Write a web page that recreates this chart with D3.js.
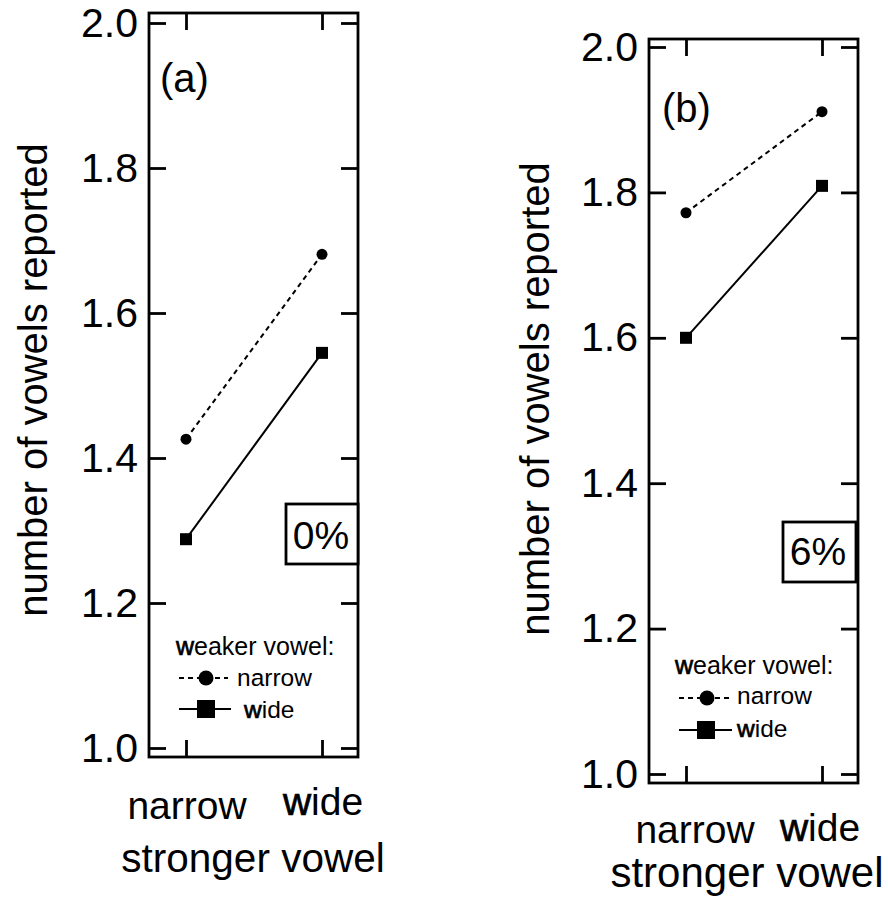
<!DOCTYPE html>
<html>
<head>
<meta charset="utf-8">
<script src="https://cdn.jsdelivr.net/npm/d3@7"></script>
<style>
  html, body { margin: 0; padding: 0; background: #fff; }
  svg { display: block; }
  text { font-family: "Liberation Sans", Arial, Helvetica, sans-serif; fill: #000; }
</style>
</head>
<body>
<svg id="chart" width="888" height="907"></svg>
<script>
// ---- data ----
const categories = ["narrow", "wide"];           // stronger vowel
const seriesNames = ["narrow", "wide"];          // weaker vowel
const panelLabels = ["(a)", "(b)"];
const panelNotes = ["0%", "6%"];
const yTicks = [1.0, 1.2, 1.4, 1.6, 1.8, 2.0];
const yDomain = [1.0, 2.0];
// panel (a)
const aNarrow = [1.426, 1.681];
const aWide = [1.288, 1.545];
// panel (b)
const bNarrow = [1.772, 1.911];
const bWide = [1.600, 1.809];

const yTitle = "number of vowels reported";
const xTitle = "stronger vowel";
const legendTitle = "weaker vowel:";

// ---- layout ----
const panels = [
  { values: [aNarrow, aWide], label: panelLabels[0], note: panelNotes[0],
    left: 149, right: 358, top: 13, bottom: 757, y0: 748, y1: 23,
    xA: 186, xB: 322, titleX: 47, titleY: 380,
    catDx: [1, 1], catY: [819, 815], xTitleX: 253, xTitleY: 872, xTitleSize: 40.5,
    labX: 160, labY: 92,
    noteBox: [286, 504, 72, 60], noteText: [321, 549],
    leg: { titleX: 176, titleY: 655, rows: [
      { y: 678, x1: 179, x2: 228, mx: 206, tx: 237, ty: 686 },
      { y: 709, x1: 179, x2: 231, mx: 206, tx: 244, ty: 718 } ] } },
  { values: [bNarrow, bWide], label: panelLabels[1], note: panelNotes[1],
    left: 649, right: 858, top: 39, bottom: 783, y0: 774, y1: 47,
    xA: 686, xB: 822, titleX: 549, titleY: 399,
    catDx: [9, -2], catY: [843, 841], xTitleX: 747, xTitleY: 887, xTitleSize: 42,
    labX: 662, labY: 122,
    noteBox: [783, 522, 73, 60], noteText: [818, 565],
    leg: { titleX: 675, titleY: 674, rows: [
      { y: 698, x1: 679, x2: 730, mx: 707, tx: 737, ty: 704 },
      { y: 730, x1: 679, x2: 732, mx: 706, tx: 737, ty: 737 } ] } }
];

const svg = d3.select("#chart");
const SW = 2.8, TICK = 17;
const dashes = ["5,4", null];

function wText(sel, str) {
  if (str[0] === "w") {
    sel.append("tspan").attr("stroke", "#000").attr("stroke-width", 0.7).text("w");
    sel.append("tspan").text(str.slice(1));
  } else sel.text(str);
}

panels.forEach(p => {
  const g = svg.append("g");
  const y = d3.scaleLinear().domain(yDomain).range([p.y0, p.y1]);
  const x = d3.scalePoint().domain(categories).range([p.xA, p.xB]).padding(0);

  // frame
  g.append("rect").attr("x", p.left).attr("y", p.top)
    .attr("width", p.right - p.left).attr("height", p.bottom - p.top)
    .attr("fill", "none").attr("stroke", "#000").attr("stroke-width", SW);

  // left axis (with labels)
  const la = g.append("g").attr("transform", `translate(${p.left},0)`)
    .call(d3.axisLeft(y).tickValues(yTicks).tickFormat(d3.format(".1f"))
      .tickSizeInner(-TICK).tickSizeOuter(0).tickPadding(11));
  la.select(".domain").remove();
  la.selectAll("line").attr("stroke-width", SW);
  la.selectAll("text").attr("font-size", 41).attr("font-family", "Liberation Sans, Arial, sans-serif");

  // right axis (ticks only)
  const ra = g.append("g").attr("transform", `translate(${p.right},0)`)
    .call(d3.axisRight(y).tickValues(yTicks).tickFormat("")
      .tickSizeInner(-TICK).tickSizeOuter(0));
  ra.select(".domain").remove();
  ra.selectAll("line").attr("stroke-width", SW);

  // top & bottom ticks
  const ta = g.append("g").attr("transform", `translate(0,${p.top})`)
    .call(d3.axisTop(x).tickFormat("").tickSizeInner(-TICK).tickSizeOuter(0));
  ta.select(".domain").remove();
  ta.selectAll("line").attr("stroke-width", SW);
  const ba = g.append("g").attr("transform", `translate(0,${p.bottom})`)
    .call(d3.axisBottom(x).tickFormat("").tickSizeInner(-TICK).tickSizeOuter(0));
  ba.select(".domain").remove();
  ba.selectAll("line").attr("stroke-width", SW);

  // category labels
  categories.forEach((c, i) => {
    const t = g.append("text").attr("x", x(c) + p.catDx[i]).attr("y", p.catY[i])
      .attr("text-anchor", "middle").attr("font-size", 39);
    wText(t, c);
  });
  g.append("text").attr("x", p.xTitleX).attr("y", p.xTitleY)
    .attr("text-anchor", "middle").attr("font-size", p.xTitleSize).text(xTitle);

  // y title
  g.append("text").attr("transform", `translate(${p.titleX},${p.titleY}) rotate(-90)`)
    .attr("text-anchor", "middle").attr("font-size", 40).text(yTitle);

  // panel label
  g.append("text").attr("x", p.labX).attr("y", p.labY).attr("font-size", 40).text(p.label);

  // note box
  g.append("rect").attr("x", p.noteBox[0]).attr("y", p.noteBox[1])
    .attr("width", p.noteBox[2]).attr("height", p.noteBox[3])
    .attr("fill", "#fff").attr("stroke", "#000").attr("stroke-width", SW);
  g.append("text").attr("x", p.noteText[0]).attr("y", p.noteText[1])
    .attr("text-anchor", "middle").attr("font-size", 39).text(p.note);

  // series
  const line = d3.line().x((d, i) => x(categories[i])).y(d => y(d));
  p.values.forEach((vals, s) => {
    g.append("path").attr("d", line(vals)).attr("fill", "none")
      .attr("stroke", "#000").attr("stroke-width", 2)
      .attr("stroke-dasharray", dashes[s]);
    vals.forEach((v, i) => {
      if (s === 0) {
        g.append("circle").attr("cx", x(categories[i])).attr("cy", y(v)).attr("r", 5.5).attr("fill", "#000");
      } else {
        g.append("rect").attr("x", x(categories[i]) - 6).attr("y", y(v) - 6)
          .attr("width", 12).attr("height", 12).attr("fill", "#000");
      }
    });
  });

  // legend
  const lt = g.append("text").attr("x", p.leg.titleX).attr("y", p.leg.titleY).attr("font-size", 25);
  wText(lt, legendTitle);
  seriesNames.forEach((name, s) => {
    const r = p.leg.rows[s];
    g.append("line").attr("x1", r.x1).attr("x2", r.x2).attr("y1", r.y).attr("y2", r.y)
      .attr("stroke", "#000").attr("stroke-width", 2).attr("stroke-dasharray", dashes[s]);
    if (s === 0) {
      g.append("circle").attr("cx", r.mx).attr("cy", r.y).attr("r", 7.5).attr("fill", "#000");
    } else {
      g.append("rect").attr("x", r.mx - 9).attr("y", r.y - 9).attr("width", 18).attr("height", 18).attr("fill", "#000");
    }
    const t = g.append("text").attr("x", r.tx).attr("y", r.ty).attr("font-size", 24.5);
    wText(t, name);
  });
});
</script>
</body>
</html>
